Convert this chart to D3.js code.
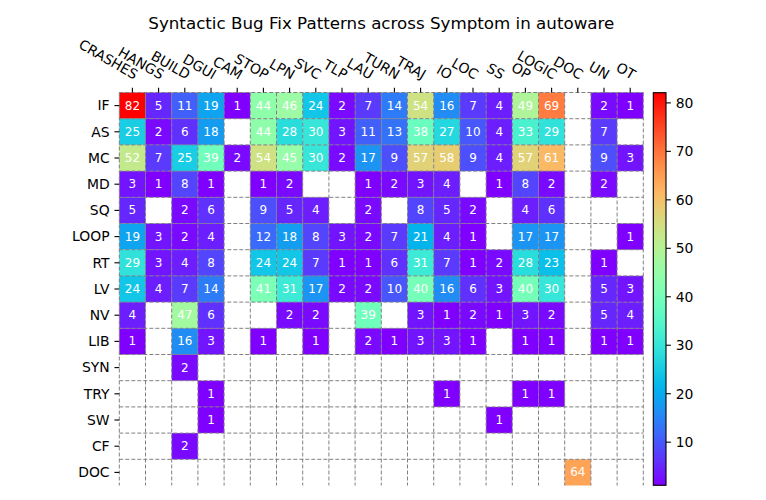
<!DOCTYPE html>
<html>
<head>
<meta charset="utf-8">
<script src="https://cdn.jsdelivr.net/npm/d3@7"></script>
<style>
  html, body { margin: 0; padding: 0; background: #fff; }
  svg { display: block; font-family: "DejaVu Sans", sans-serif; }
</style>
</head>
<body>
<svg id="chart" width="766" height="500"></svg>
<script>
const title = "Syntactic Bug Fix Patterns across Symptom in autoware";
const columns = ["CRASHES","HANGS","BUILD","DGUI","CAM","STOP","LPN","SVC","TLP","LAU","TURN","TRAJ","IO","LOC","SS","OP","LOGIC","DOC","UN","OT"];
const rows = ["IF","AS","MC","MD","SQ","LOOP","RT","LV","NV","LIB","SYN","TRY","SW","CF","DOC"];
const _ = null;
const rowIF   = [82,5,11,19,1,44,46,24,2,7,14,54,16,7,4,49,69,_,2,1];
const rowAS   = [25,2,6,18,_,44,28,30,3,11,13,38,27,10,4,33,29,_,7,_];
const rowMC   = [52,7,25,39,2,54,45,30,2,17,9,57,58,9,4,57,61,_,9,3];
const rowMD   = [3,1,8,1,_,1,2,_,_,1,2,3,4,_,1,8,2,_,2,_];
const rowSQ   = [5,_,2,6,_,9,5,4,_,2,_,8,5,2,_,4,6,_,_,_];
const rowLOOP = [19,3,2,4,_,12,18,8,3,2,7,21,4,1,_,17,17,_,_,1];
const rowRT   = [29,3,4,8,_,24,24,7,1,1,6,31,7,1,2,28,23,_,1,_];
const rowLV   = [24,4,7,14,_,41,31,17,2,2,10,40,16,6,3,40,30,_,5,3];
const rowNV   = [4,_,47,6,_,_,2,2,_,39,_,3,1,2,1,3,2,_,5,4];
const rowLIB  = [1,_,16,3,_,1,_,1,_,2,1,3,3,1,_,1,1,_,1,1];
const rowSYN  = [_,_,2,_,_,_,_,_,_,_,_,_,_,_,_,_,_,_,_,_];
const rowTRY  = [_,_,_,1,_,_,_,_,_,_,_,_,1,_,_,1,1,_,_,_];
const rowSW   = [_,_,_,1,_,_,_,_,_,_,_,_,_,_,1,_,_,_,_,_];
const rowCF   = [_,_,2,_,_,_,_,_,_,_,_,_,_,_,_,_,_,_,_,_];
const rowDOC  = [_,_,_,_,_,_,_,_,_,_,_,_,_,_,_,_,_,64,_,_];
const matrix = [rowIF,rowAS,rowMC,rowMD,rowSQ,rowLOOP,rowRT,rowLV,rowNV,rowLIB,rowSYN,rowTRY,rowSW,rowCF,rowDOC];
const colorTicks = [10,20,30,40,50,60,70,80];
const vmin = 1, vmax = 82;

// matplotlib "rainbow" colormap
function rainbow(t) {
  const clip = v => Math.max(0, Math.min(1, v));
  const r = clip(Math.abs(2 * t - 0.5));
  const g = clip(Math.sin(Math.PI * t));
  const b = clip(Math.cos(Math.PI / 2 * t));
  return d3.rgb(r * 255, g * 255, b * 255).formatHex();
}

const svg = d3.select("#chart");
const leftX = 119.3, topY = 92.5, cell = 26.2;
const W = cell * columns.length, H = cell * rows.length;
const tickLen = 4.86, pad = 4.86;

const x = d3.scaleBand().domain(d3.range(columns.length)).range([leftX, leftX + W]).padding(0);
const y = d3.scaleBand().domain(d3.range(rows.length)).range([topY, topY + H]).padding(0);
const color = d3.scaleSequential(rainbow).domain([vmin, vmax]);

const cells = [];
matrix.forEach((r, i) => r.forEach((v, j) => { if (v !== null) cells.push({i, j, v}); }));

// cells
svg.append("g").selectAll("rect").data(cells).join("rect")
  .attr("x", d => x(d.j)).attr("y", d => y(d.i))
  .attr("width", x.bandwidth()).attr("height", y.bandwidth())
  .attr("fill", d => color(d.v));

// grid (dashed)
const grid = svg.append("g").attr("stroke", "#808080").attr("stroke-width", 1)
  .attr("stroke-dasharray", "4,2").attr("fill", "none");
d3.range(columns.length + 1).forEach(k => {
  const xx = leftX + k * x.bandwidth();
  grid.append("line").attr("x1", xx).attr("x2", xx).attr("y1", topY).attr("y2", topY + H);
});
d3.range(rows.length).forEach(k => {
  const yy = topY + k * y.bandwidth();
  grid.append("line").attr("x1", leftX).attr("x2", leftX + W).attr("y1", yy).attr("y2", yy);
});

// cell labels
svg.append("g").selectAll("text").data(cells).join("text")
  .attr("x", d => x(d.j) + x.bandwidth() / 2)
  .attr("y", d => y(d.i) + y.bandwidth() / 2)
  .attr("text-anchor", "middle").attr("dominant-baseline", "central")
  .attr("fill", "#fff").attr("font-size", "12px")
  .text(d => d.v);

// top axis
const xAxis = d3.axisTop(x).tickSize(tickLen).tickPadding(pad).tickFormat(j => columns[j]);
const gx = svg.append("g").attr("transform", `translate(0,${topY})`).call(xAxis);
gx.select(".domain").remove();
gx.selectAll(".tick line").attr("stroke", "#000").attr("stroke-width", 1.1);
gx.selectAll(".tick text")
  .attr("font-size", "13.9px").attr("font-family", "DejaVu Sans, sans-serif").attr("fill", "#000")
  .attr("text-anchor", "end").attr("y", 0).attr("dy", "-0.24em")
  .attr("transform", `translate(0,${-(tickLen + pad)}) rotate(30)`);

// left axis
const yAxis = d3.axisLeft(y).tickSize(tickLen).tickPadding(pad).tickFormat(i => rows[i]);
const gy = svg.append("g").attr("transform", `translate(${leftX},0)`).call(yAxis);
gy.select(".domain").remove();
gy.selectAll(".tick line").attr("stroke", "#000").attr("stroke-width", 1.1);
gy.selectAll(".tick text")
  .attr("font-size", "13.9px").attr("font-family", "DejaVu Sans, sans-serif").attr("fill", "#000")
  .attr("dy", "0.35em");

// title
svg.append("text").attr("x", leftX + W / 2).attr("y", 28.5)
  .attr("text-anchor", "middle").attr("font-size", "16.7px").attr("fill", "#000")
  .text(title);

// colorbar
const cbX = 653.3, cbW = 12.7, cbTop = 92.7, cbBot = 485.3;
const cy = d3.scaleLinear().domain([vmin, vmax]).range([cbBot, cbTop]);
const defs = svg.append("defs");
const grad = defs.append("linearGradient").attr("id", "cbgrad")
  .attr("x1", 0).attr("y1", 1).attr("x2", 0).attr("y2", 0);
d3.range(0, 1.0001, 0.02).forEach(t => {
  grad.append("stop").attr("offset", t).attr("stop-color", rainbow(t));
});
svg.append("rect").attr("x", cbX).attr("y", cbTop).attr("width", cbW).attr("height", cbBot - cbTop)
  .attr("fill", "url(#cbgrad)").attr("stroke", "#000").attr("stroke-width", 1.1);
const cAxis = d3.axisRight(cy).tickValues(colorTicks).tickSize(tickLen).tickPadding(pad);
const gc = svg.append("g").attr("transform", `translate(${cbX + cbW},0)`).call(cAxis);
gc.select(".domain").remove();
gc.selectAll(".tick line").attr("stroke", "#000").attr("stroke-width", 1.1);
gc.selectAll(".tick text")
  .attr("font-size", "13.9px").attr("font-family", "DejaVu Sans, sans-serif").attr("fill", "#000")
  .attr("dy", "0.35em");
</script>
</body>
</html>
